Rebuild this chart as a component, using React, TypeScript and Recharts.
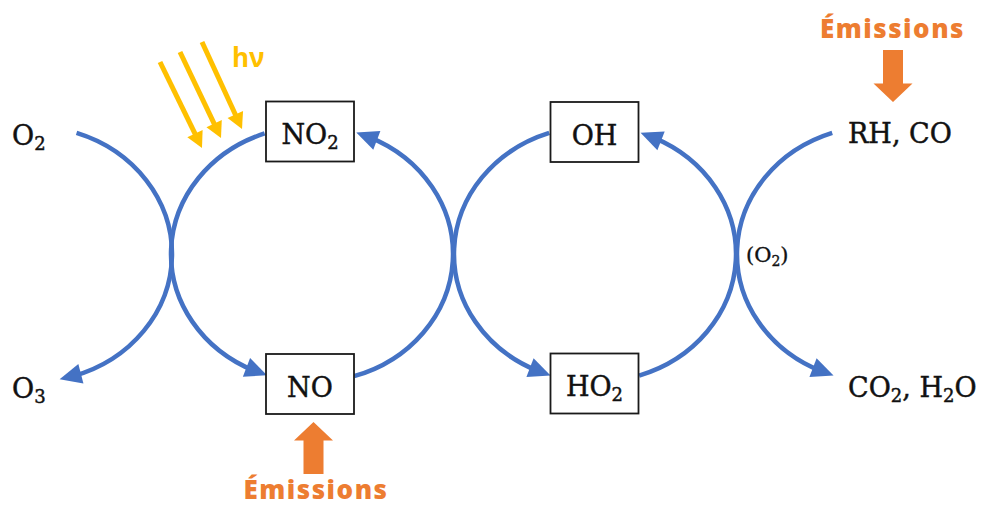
import React from 'react';
import { ScatterChart, Scatter, XAxis, YAxis } from 'recharts';

// ---------- chart frame ----------
const CHART_W = 982;
const CHART_H = 506;
const X_DOMAIN: [number, number] = [0, 982];
const Y_DOMAIN: [number, number] = [0, 506];
const KX = CHART_W / (X_DOMAIN[1] - X_DOMAIN[0]);
const KY = CHART_H / (Y_DOMAIN[1] - Y_DOMAIN[0]);

// ---------- data (diagram units) ----------
// Boxed species
const boxLabels = ['NO2', 'NO', 'OH', 'HO2'];
const boxX = [310, 310, 594.5, 594.5];
const boxY = [131.5, 384, 132, 383.5];

// Free species labels (text baseline positions)
const freeLabels = ['O2', 'O3', 'RH, CO', 'CO2, H2O'];
const freeX = [12, 12, 848, 848];
const freeY = [145, 398, 143, 397];

// Small label
const smallLabels = ['(O2)'];
const smallX = [746];
const smallY = [262];

// Reaction arcs: centre, start point, end point (arrow tip), direction
const arcNames = ['O2→O3', 'NO2→NO', 'NO→NO2', 'OH→HO2', 'HO2→OH', 'RH,CO→CO2,H2O'];
const arcCx = [31, 312, 312, 595, 595, 878];
const arcCy = [254, 254, 254, 254, 254, 254];
const arcStartX = [75, 266, 355, 550, 640, 833];
const arcStartY = [137, 137, 379, 135, 378, 135];
const arcEndX = [60, 266, 355, 550, 639, 833];
const arcEndY = [381, 378, 136, 377, 137, 377];
const arcDir = [1, -1, -1, -1, -1, -1];

// Light rays (hν)
const rayStartX = [160, 180, 202];
const rayStartY = [62, 52, 42];
const rayEndX = [202, 221, 242];
const rayEndY = [148, 138, 129];
const rayLabel = ['hν'];
const rayLabelX = [232];
const rayLabelY = [67];

// Emission block arrows
const emissionLabels = ['Émissions', 'Émissions'];
const emissionTipX = [313.5, 893];
const emissionTipY = [422, 102];
const emissionTailY = [474, 50];
const emissionTextX = [316, 892.5];
const emissionTextY = [499, 38];

// ---------- styles ----------
const BLUE = '#4472C4';
const ORANGE = '#ED7D31';
const YELLOW = '#FFC000';
const INK = '#111111';
const SERIF = '"DejaVu Serif", serif';
const SANS = '"Open Sans", "DejaVu Sans", sans-serif';
const BOX_W = 88;
const BOX_H = 60;
const ARC_RX = 141;
const ARC_RY = 128;
const ARROW_L = 22;
const ARROW_W = 20;
const RAY_HEAD_L = 16;
const RAY_HEAD_W = 17;
const BLOCK_HEAD_L = 18.5;
const BLOCK_HEAD_HW = 19.5;
const BLOCK_SHAFT_HW = 10;

// ---------- built tables ----------
const boxData = boxLabels.map((label, i) => ({ x: boxX[i], y: boxY[i], label }));
const freeData = freeLabels.map((label, i) => ({ x: freeX[i], y: freeY[i], label }));
const smallData = smallLabels.map((label, i) => ({ x: smallX[i], y: smallY[i], label }));
const arcData = arcNames.map((name, i) => ({
  name,
  x: arcCx[i],
  y: arcCy[i],
  x1: arcStartX[i],
  y1: arcStartY[i],
  x2: arcEndX[i],
  y2: arcEndY[i],
  dir: arcDir[i],
}));
const rayData = rayStartX.map((x, i) => ({ x, y: rayStartY[i], x2: rayEndX[i], y2: rayEndY[i] }));
const rayLabelData = rayLabel.map((label, i) => ({ x: rayLabelX[i], y: rayLabelY[i], label }));
const emissionArrowData = emissionTipX.map((x, i) => ({ x, y: emissionTipY[i], tail: emissionTailY[i] }));
const emissionTextData = emissionLabels.map((label, i) => ({ x: emissionTextX[i], y: emissionTextY[i], label }));

// ---------- helpers ----------
function chemParts(label: string, subSize: number, shift: number) {
  const parts: { t: string; sub: boolean }[] = [];
  for (const ch of label) {
    const sub = /[0-9]/.test(ch);
    const last = parts[parts.length - 1];
    if (last && last.sub === sub) last.t += ch;
    else parts.push({ t: ch, sub });
  }
  let cur = 0;
  return parts.map((p, i) => {
    const target = p.sub ? shift : 0;
    const dy = target - cur;
    cur = target;
    return (
      <tspan key={i} dy={dy} fontSize={p.sub ? subSize : undefined}>
        {p.t}
      </tspan>
    );
  });
}

const BoxShape = (props: any) => {
  const { cx, cy, payload } = props;
  const w = BOX_W * KX;
  const h = BOX_H * KY;
  return (
    <g>
      <rect x={cx - w / 2} y={cy - h / 2} width={w} height={h} fill="#ffffff" stroke="#1a1a1a" strokeWidth={1.8} />
      <text
        x={cx}
        y={cy + 12.5}
        textAnchor="middle"
        fontFamily={SERIF}
        fontSize={27}
        fill={INK}
        stroke={INK}
        strokeWidth={0.45}
      >
        {chemParts(payload.label, 18, 5)}
      </text>
    </g>
  );
};

const FreeText = (props: any) => {
  const { cx, cy, payload } = props;
  return (
    <text
      x={cx}
      y={cy}
      textAnchor="start"
      fontFamily={SERIF}
      fontSize={27}
      fill={INK}
      stroke={INK}
      strokeWidth={0.45}
    >
      {chemParts(payload.label, 18, 5)}
    </text>
  );
};

const SmallText = (props: any) => {
  const { cx, cy, payload } = props;
  return (
    <text
      x={cx}
      y={cy}
      textAnchor="start"
      fontFamily={SERIF}
      fontSize={21}
      fill={INK}
      stroke={INK}
      strokeWidth={0.35}
    >
      {chemParts(payload.label, 14, 4)}
    </text>
  );
};

const ArcShape = (props: any) => {
  const { cx, cy, payload } = props;
  const rx = ARC_RX * KX;
  const ry = ARC_RY * KY;
  const ang = (x: number, y: number) =>
    Math.atan2(((y - payload.y) * KY) / ry, ((x - payload.x) * KX) / rx);
  const dir = payload.dir;
  const t1 = ang(payload.x1, payload.y1);
  let t2 = ang(payload.x2, payload.y2);
  if (dir > 0) {
    while (t2 < t1) t2 += Math.PI * 2;
  } else {
    while (t2 > t1) t2 -= Math.PI * 2;
  }
  const pt = (t: number) => [cx + rx * Math.cos(t), cy + ry * Math.sin(t)];
  const speed = Math.hypot(rx * Math.sin(t2), ry * Math.cos(t2));
  const tb = t2 - (dir * ARROW_L) / speed;
  const tLine = t2 - (dir * ARROW_L * 0.6) / speed;
  const [sx, sy] = pt(t1);
  const [lx, ly] = pt(tLine);
  const [bx0, by0] = pt(tb);
  const [tx, ty] = pt(t2);
  const large = Math.abs(tLine - t1) > Math.PI ? 1 : 0;
  const sweep = dir > 0 ? 1 : 0;
  const d = `M${sx},${sy} A${rx},${ry} 0 ${large} ${sweep} ${lx},${ly}`;
  const len = Math.hypot(tx - bx0, ty - by0) || 1;
  const ux = (tx - bx0) / len;
  const uy = (ty - by0) / len;
  const nx = -uy;
  const ny = ux;
  const bx = tx - ux * ARROW_L;
  const by = ty - uy * ARROW_L;
  const hw = ARROW_W / 2;
  const poly = `${tx},${ty} ${bx + nx * hw},${by + ny * hw} ${bx - nx * hw},${by - ny * hw}`;
  return (
    <g>
      <path d={d} fill="none" stroke={BLUE} strokeWidth={4.5} />
      <polygon points={poly} fill={BLUE} />
    </g>
  );
};

const RayShape = (props: any) => {
  const { cx, cy, payload } = props;
  const tx = cx + (payload.x2 - payload.x) * KX;
  const ty = cy + (payload.y2 - payload.y) * KY;
  const len = Math.hypot(tx - cx, ty - cy) || 1;
  const ux = (tx - cx) / len;
  const uy = (ty - cy) / len;
  const nx = -uy;
  const ny = ux;
  const lx = tx - ux * RAY_HEAD_L * 0.6;
  const ly = ty - uy * RAY_HEAD_L * 0.6;
  const bx = tx - ux * RAY_HEAD_L;
  const by = ty - uy * RAY_HEAD_L;
  const hw = RAY_HEAD_W / 2;
  return (
    <g>
      <line x1={cx} y1={cy} x2={lx} y2={ly} stroke={YELLOW} strokeWidth={5} />
      <polygon
        points={`${tx},${ty} ${bx + nx * hw},${by + ny * hw} ${bx - nx * hw},${by - ny * hw}`}
        fill={YELLOW}
      />
    </g>
  );
};

const RayLabel = (props: any) => {
  const { cx, cy, payload } = props;
  return (
    <text x={cx} y={cy} fontFamily={SANS} fontWeight={700} fontSize={26} fill={YELLOW}>
      {payload.label}
    </text>
  );
};

const BlockArrow = (props: any) => {
  const { cx, cy, payload } = props;
  const tailY = cy + (payload.tail - payload.y) * KY;
  const s = Math.sign(tailY - cy);
  const hb = cy + s * BLOCK_HEAD_L;
  const pts = [
    [cx, cy],
    [cx + BLOCK_HEAD_HW, hb],
    [cx + BLOCK_SHAFT_HW, hb],
    [cx + BLOCK_SHAFT_HW, tailY],
    [cx - BLOCK_SHAFT_HW, tailY],
    [cx - BLOCK_SHAFT_HW, hb],
    [cx - BLOCK_HEAD_HW, hb],
  ]
    .map((p) => p.join(','))
    .join(' ');
  return <polygon points={pts} fill={ORANGE} />;
};

const EmissionText = (props: any) => {
  const { cx, cy, payload } = props;
  return (
    <text
      x={cx}
      y={cy}
      textAnchor="middle"
      fontFamily={SANS}
      fontWeight={800}
      fontSize={26}
      letterSpacing={1.5}
      fill={ORANGE}
    >
      {payload.label}
    </text>
  );
};

export default function App() {
  return (
    <div style={{ position: 'absolute', left: 0, top: 0, width: CHART_W, height: CHART_H, background: '#fff' }}>
      <ScatterChart width={CHART_W} height={CHART_H} margin={{ top: 0, right: 0, bottom: 0, left: 0 }}>
        <XAxis type="number" dataKey="x" domain={X_DOMAIN} hide allowDataOverflow />
        <YAxis type="number" dataKey="y" domain={Y_DOMAIN} hide reversed allowDataOverflow />
        <Scatter data={arcData} shape={(p: any) => <ArcShape {...p} />} isAnimationActive={false} />
        <Scatter data={boxData} shape={(p: any) => <BoxShape {...p} />} isAnimationActive={false} />
        <Scatter data={freeData} shape={(p: any) => <FreeText {...p} />} isAnimationActive={false} />
        <Scatter data={smallData} shape={(p: any) => <SmallText {...p} />} isAnimationActive={false} />
        <Scatter data={rayData} shape={(p: any) => <RayShape {...p} />} isAnimationActive={false} />
        <Scatter data={rayLabelData} shape={(p: any) => <RayLabel {...p} />} isAnimationActive={false} />
        <Scatter data={emissionArrowData} shape={(p: any) => <BlockArrow {...p} />} isAnimationActive={false} />
        <Scatter data={emissionTextData} shape={(p: any) => <EmissionText {...p} />} isAnimationActive={false} />
      </ScatterChart>
    </div>
  );
}
